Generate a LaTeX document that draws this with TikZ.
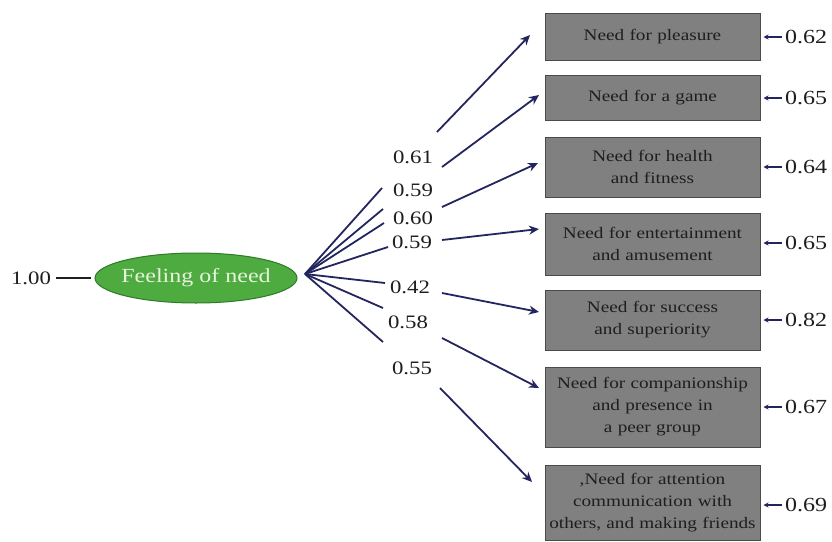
\documentclass[tikz,border=0pt]{standalone}
\usepackage{fontspec}
\setmainfont[FakeStretch=1.2]{Liberation Serif}
\usetikzlibrary{arrows.meta,shapes.geometric}
\definecolor{navy}{HTML}{23265E}
\definecolor{boxfill}{HTML}{808080}
\definecolor{boxline}{HTML}{4A4A4A}
\definecolor{ovalfill}{HTML}{4DAB3F}
\definecolor{ovalline}{HTML}{2F7A2A}
\definecolor{ovaltext}{HTML}{E6F4DC}
\definecolor{numtext}{HTML}{1E1E1E}
\tikzset{
  link/.style={draw=navy, line width=1.8pt},
  arr/.style={link, -{Stealth[length=10pt,width=9pt]}},
  small arr/.style={draw=navy, line width=1.2pt, -{Stealth[length=5pt,width=5pt]}, shorten >=3pt, shorten <=2pt},
  need/.style={draw=boxline, line width=1pt, fill=boxfill, minimum width=215pt, text width=211pt, inner sep=2pt,
    align=center, text=numtext, font=\fontsize{16}{22}\selectfont},
  num/.style={text=numtext, font=\fontsize{19}{22}\selectfont, inner sep=1pt},
  rnum/.style={text=numtext, font=\fontsize{20}{22}\selectfont, inner sep=1pt, anchor=west},
}
\begin{document}
\begin{tikzpicture}[x=1pt,y=-1pt]
\useasboundingbox (0,0) rectangle (832,541);
% latent variable
\node[ellipse, draw=ovalline, line width=1pt, fill=ovalfill, minimum width=202pt, minimum height=50pt,
  inner sep=0pt, label={[text=ovaltext, font=\fontsize{20}{22}\selectfont]center:Feeling of need}] (f) at (196,278) {};
\node[num] (one) at (31,278) {1.00};
\draw[draw=numtext, line width=1.6pt] ([xshift=4pt]one.east) -- ([xshift=-4pt]f.west);
\coordinate (o) at (305,274);
% boxes
\node[need, minimum height=47pt] (b1) at (652.5,36.5) {Need for pleasure};
\node[need, minimum height=45pt] (b2) at (652.5,97.5) {Need for a game};
\node[need, minimum height=60pt] (b3) at (652.5,167) {Need for health\\and fitness};
\node[need, minimum height=62pt] (b4) at (652.5,244) {Need for entertainment\\and amusement};
\node[need, minimum height=60pt] (b5) at (652.5,320) {Need for success\\and superiority};
\node[need, minimum height=80pt] (b6) at (652.5,407) {Need for companionship\\and presence in\\a peer group};
\node[need, minimum height=75pt] (b7) at (652.5,502.5) {,Need for attention\\communication with\\others, and making friends};
% loadings
\node[num] (l1) at (413,157) {0.61};
\node[num] (l2) at (413,190) {0.59};
\node[num] (l3) at (413,218) {0.60};
\node[num] (l4) at (412,242) {0.59};
\node[num] (l5) at (410,287) {0.42};
\node[num] (l6) at (408,322) {0.58};
\node[num] (l7) at (412,368) {0.55};
% first segments
\coordinate (a1) at (382,188);
\coordinate (a2) at (383,209);
\coordinate (a3) at (384,223);
\coordinate (a4) at (388,247);
\coordinate (a5) at (385,283);
\coordinate (a6) at (383,308);
\coordinate (a7) at (383,342);
\foreach \i in {1,...,7} {\draw[link] (o) -- (a\i);}
% second segments
\coordinate (s1) at (437,132); \coordinate (t1) at (530,35);
\coordinate (s2) at (442,167); \coordinate (t2) at (539,95);
\coordinate (s3) at (442,207); \coordinate (t3) at (538,163);
\coordinate (s4) at (442,240); \coordinate (t4) at (539,229);
\coordinate (s5) at (442,293); \coordinate (t5) at (539,312);
\coordinate (s6) at (442,338); \coordinate (t6) at (539,388);
\coordinate (s7) at (440,388); \coordinate (t7) at (532,482);
\foreach \i in {1,...,7} {\draw[arr] (s\i) -- (t\i);}
% residuals
\node[rnum] (e1) at (784,37) {0.62};
\node[rnum] (e2) at (784,98) {0.65};
\node[rnum] (e3) at (784,167) {0.64};
\node[rnum] (e4) at (784,243) {0.65};
\node[rnum] (e5) at (784,320) {0.82};
\node[rnum] (e6) at (784,407) {0.67};
\node[rnum] (e7) at (784,505) {0.69};
\foreach \i in {1,...,7} {\draw[small arr] (e\i.west) -- (e\i.west -| b\i.east);}
\end{tikzpicture}
\end{document}
